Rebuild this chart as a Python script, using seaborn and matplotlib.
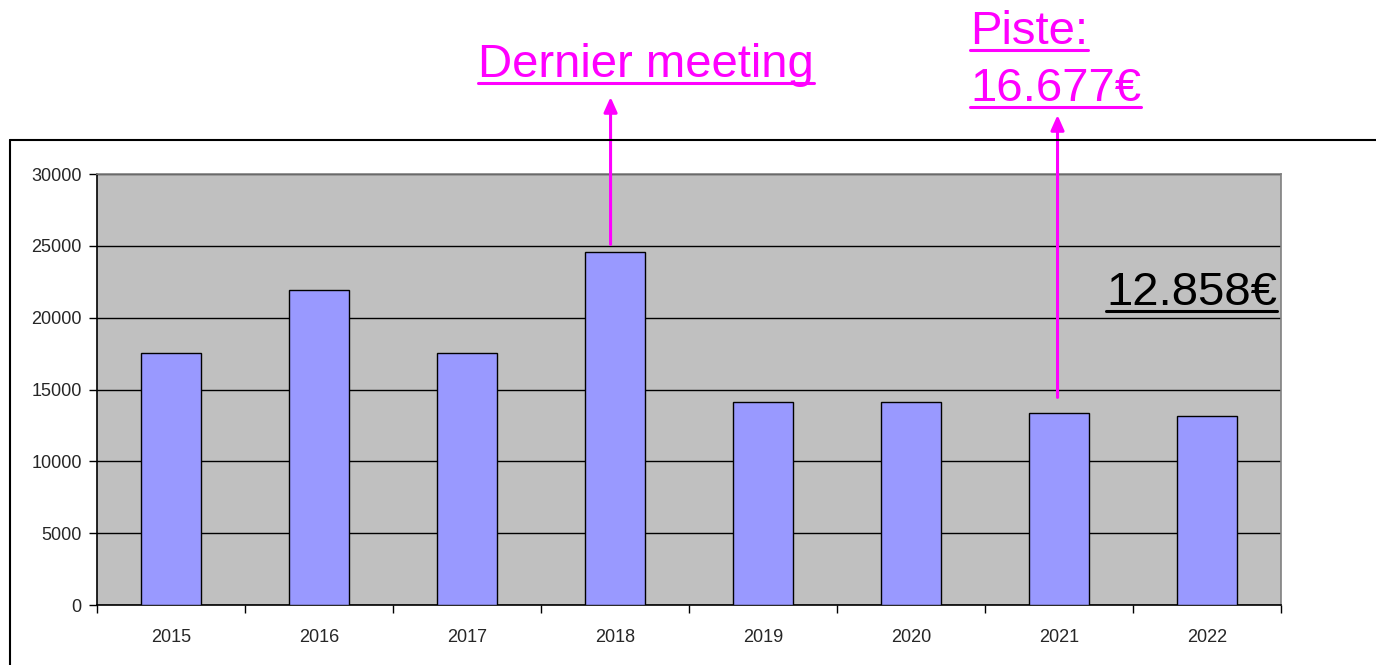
import matplotlib
matplotlib.use('Agg')
import matplotlib.pyplot as plt
from matplotlib.lines import Line2D
import seaborn as sns
import pandas as pd

# dati
anni = ['2015', '2016', '2017', '2018', '2019', '2020', '2021', '2022']
importi = [17550, 21900, 17550, 24600, 14100, 14150, 13350, 13150]
tick_y = [0, 5000, 10000, 15000, 20000, 25000, 30000]
testo_meeting = 'Dernier meeting'
testo_piste = ['Piste:', '16.677€']
testo_totale = '12.858€'

W, H = 1376, 665
MAGENTA = '#FF00FF'

sns.set_style('white')
plt.rcParams['font.family'] = ['Liberation Sans', 'DejaVu Sans']

fig = plt.figure(figsize=(W / 100, H / 100), dpi=100)
ax = fig.add_axes([97 / W, 1 - 605 / H, (1281 - 97) / W, (605 - 174) / H])

df = pd.DataFrame({'anno': anni, 'importo': importi})
sns.barplot(data=df, x='anno', y='importo', color='#9999FF', saturation=1,
            edgecolor='black', linewidth=1, width=0.4, ax=ax, zorder=3)

# sfondo e griglia stile Excel
ax.set_facecolor('#C0C0C0')
ax.set_ylim(0, 30000)
ax.set_xlim(-0.5, len(anni) - 0.5)
ax.set_yticks(tick_y)
ax.set_yticklabels([str(t) for t in tick_y])
ax.yaxis.grid(True, color='black', linewidth=1, zorder=1)
ax.set_axisbelow(True)
ax.set_xlabel('')
ax.set_ylabel('')
for lato in ['left', 'bottom']:
    ax.spines[lato].set_color('black')
    ax.spines[lato].set_linewidth(1.2)
for lato in ['top', 'right']:
    ax.spines[lato].set_color('#808080')
    ax.spines[lato].set_linewidth(1.2)

ax.tick_params(axis='y', which='major', length=6, width=1, color='black',
               labelsize=13, pad=5, left=True)
ax.tick_params(axis='x', which='major', length=0, labelsize=13, pad=17)
ax.set_xticks([i - 0.5 for i in range(len(anni) + 1)], minor=True)
ax.tick_params(axis='x', which='minor', length=6, width=1, color='black',
               bottom=True)

# cornice esterna
fig.add_artist(Line2D([10 / W, 1.0], [1 - 140 / H, 1 - 140 / H],
                      color='black', linewidth=1.5, transform=fig.transFigure))
fig.add_artist(Line2D([10 / W, 10 / W], [0, 1 - 140 / H],
                      color='black', linewidth=1.5, transform=fig.transFigure))


# testo sottolineato in coordinate pixel
def sottolineato(x, y, testo, colore, ha='left'):
    t = fig.text(x / W, 1 - y / H, testo, color=colore, fontsize=34,
                 ha=ha, va='baseline')
    r = fig.canvas.get_renderer()
    bb = t.get_window_extent(renderer=r)
    yl = 1 - (y + 6) / H
    fig.add_artist(Line2D([bb.x0 / W, bb.x1 / W], [yl, yl], color=colore,
                          linewidth=2.2, transform=fig.transFigure))
    return t


sottolineato(478, 77, testo_meeting, MAGENTA)
sottolineato(970, 44, testo_piste[0], MAGENTA)
sottolineato(970, 101, testo_piste[1], MAGENTA)
sottolineato(1277, 305, testo_totale, 'black', ha='right')

# frecce verticali dalle barre verso le scritte
stile = dict(arrowstyle='-|>,head_length=0.9,head_width=0.4', color=MAGENTA,
             linewidth=2.2, shrinkA=0, shrinkB=0)
ax.annotate('', xy=(2.97, 1 - 97 / H), xycoords=('data', 'figure fraction'),
            xytext=(2.97, 25100), textcoords='data', arrowprops=stile)
ax.annotate('', xy=(5.99, 1 - 115 / H), xycoords=('data', 'figure fraction'),
            xytext=(5.99, 14450), textcoords='data', arrowprops=stile)

fig.savefig('out.png', dpi=100)
